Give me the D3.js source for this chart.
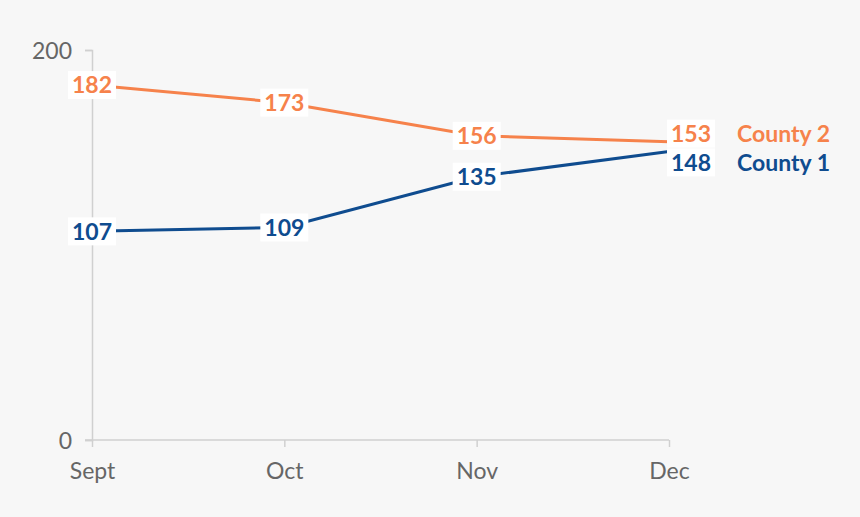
<!DOCTYPE html>
<html>
<head>
<meta charset="utf-8">
<script src="https://cdn.jsdelivr.net/npm/d3@7"></script>
<style>
  body { margin: 0; background: #f7f7f7; }
  svg { display: block; font-family: Lato, "Open Sans", sans-serif; }
</style>
</head>
<body>
<svg id="chart" width="860" height="517"></svg>
<script>
var months = ['Sept', 'Oct', 'Nov', 'Dec'];
var county1 = [107, 109, 135, 148];
var county2 = [182, 173, 156, 153];
var yTicks = [0, 200];

var svg = d3.select('#chart');
var x = d3.scalePoint().domain(months).range([92, 669]);
var y = d3.scaleLinear().domain([0, 200]).range([440, 50]);

// axes
var yAxis = svg.append('g').attr('transform', 'translate(92,0)')
  .call(d3.axisLeft(y).tickValues(yTicks).tickSize(7).tickPadding(6));
var xAxis = svg.append('g').attr('transform', 'translate(0,440)')
  .call(d3.axisBottom(x).tickSize(7).tickPadding(10));
[yAxis, xAxis].forEach(function (a) {
  a.select('.domain').attr('stroke', '#d0d0d0').attr('stroke-width', 1.5);
  a.selectAll('.tick line').attr('stroke', '#d0d0d0').attr('stroke-width', 1.5);
  a.selectAll('.tick text').attr('fill', '#666').style('font-family', 'Lato').style('font-size', '23px');
});
xAxis.select('.domain').attr('d', 'M85,0H669');
yAxis.selectAll('.tick text').attr('dy', '0.36em').attr('x', -20).attr('y', 0);
xAxis.selectAll('.tick text').attr('dy', '0.95em');

var series = [
  {name: 'County 2', values: county2, color: '#f6824b', off: -8},
  {name: 'County 1', values: county1, color: '#0f4c8f', off: 11}
];

var line = d3.line().x(function (d, i) { return x(months[i]); }).y(function (d) { return y(d); });

series.forEach(function (s) {
  svg.append('path').attr('d', line(s.values))
    .attr('fill', 'none').attr('stroke', s.color).attr('stroke-width', 3);
});

series.forEach(function (s) {
  s.values.forEach(function (v, i) {
    var last = i === months.length - 1;
    var cx = last ? x(months[i]) + 22 : x(months[i]);
    var cy = last ? y(v) + s.off : y(v);
    var g = svg.append('g').attr('transform', 'translate(' + cx + ',' + cy + ')');
    g.append('rect').attr('x', -24).attr('y', -14).attr('width', 48).attr('height', 28).attr('fill', '#fff');
    g.append('text').text(v).attr('text-anchor', 'middle').attr('dy', '0.36em')
      .attr('fill', s.color).style('font-size', '23px').style('font-weight', 'bold');
  });
  var lastV = s.values[s.values.length - 1];
  svg.append('text').text(s.name)
    .attr('x', 737).attr('y', y(lastV) + s.off).attr('dy', '0.36em')
    .attr('fill', s.color).style('font-size', '23px').style('font-weight', 'bold');
});
</script>
</body>
</html>
